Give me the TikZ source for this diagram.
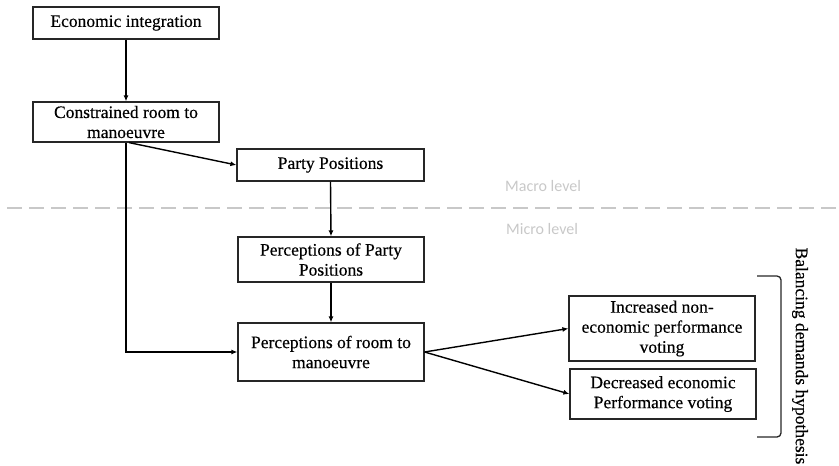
\documentclass[tikz,border=0pt]{standalone}
\usepackage{fontspec}
\setmainfont{Liberation Serif}[FakeBold=0.4]
\newfontfamily\lblfont{Carlito}
\usetikzlibrary{arrows.meta,calc}
\definecolor{lvlgray}{RGB}{200,200,200}
\begin{document}
\begin{tikzpicture}[x=1pt,y=-1pt,
  box/.style={draw=black!85,line width=1.2pt,align=center,inner sep=0pt,
    font=\fontsize{17.5}{20}\selectfont},
  arr/.style={line width=1.4pt,-{Latex[length=6pt,width=5pt]}},
  lvl/.style={text=lvlgray,font=\lblfont\fontsize{16}{18}\selectfont,inner sep=0pt}]
\useasboundingbox (0,0) rectangle (839,466);
\node[box,minimum width=186pt,minimum height=32pt] (eco) at (126,23) {Economic integration};
\node[box,minimum width=186pt,minimum height=40pt] (con) at (126,122) {Constrained room to\\manoeuvre};
\node[box,minimum width=187pt,minimum height=32pt] (pp) at (330.5,165) {Party Positions};
\node[box,minimum width=186pt,minimum height=45pt] (ppp) at (331,259.5) {Perceptions of Party\\Positions};
\node[box,minimum width=186pt,minimum height=58pt] (prm) at (331,352) {Perceptions of room to\\manoeuvre};
\node[box,minimum width=186pt,minimum height=65pt] (inc) at (662,328.5) {Increased non-\\economic performance\\voting};
\node[box,minimum width=186pt,minimum height=50pt] (dec) at (663,394) {Decreased economic\\Performance voting};
\node[lvl,anchor=west] (macro) at (505,186) {Macro level};
\node[lvl,anchor=west] (micro) at (506,229) {Micro level};
\coordinate (dashL) at (7,208);
\coordinate (dashR) at (839,208);
\draw[lvlgray,line width=2pt,dash pattern=on 15pt off 7pt] (dashL) -- (dashR);
\node[font=\fontsize{17.5}{20}\selectfont,rotate=-90,inner sep=0pt] (hyp) at (800,356) {Balancing demands hypothesis};
\draw[black!85,line width=1.3pt,rounded corners=4pt] (757,276) -- (781,276) -- (781,437) -- (757,437);
\draw[arr] (eco.south) -- (con.north);
\draw[arr] ($(con.south)+(3,0)$) -- (pp.west);
\draw[arr] (con.south) |- (prm.west);
\draw[arr] (pp.south) -- (ppp.north);
\draw[arr] (ppp.south) -- (prm.north);
\draw[arr] (prm.east) -- (inc.west);
\draw[arr] (prm.east) -- (dec.west);
\end{tikzpicture}
\end{document}
